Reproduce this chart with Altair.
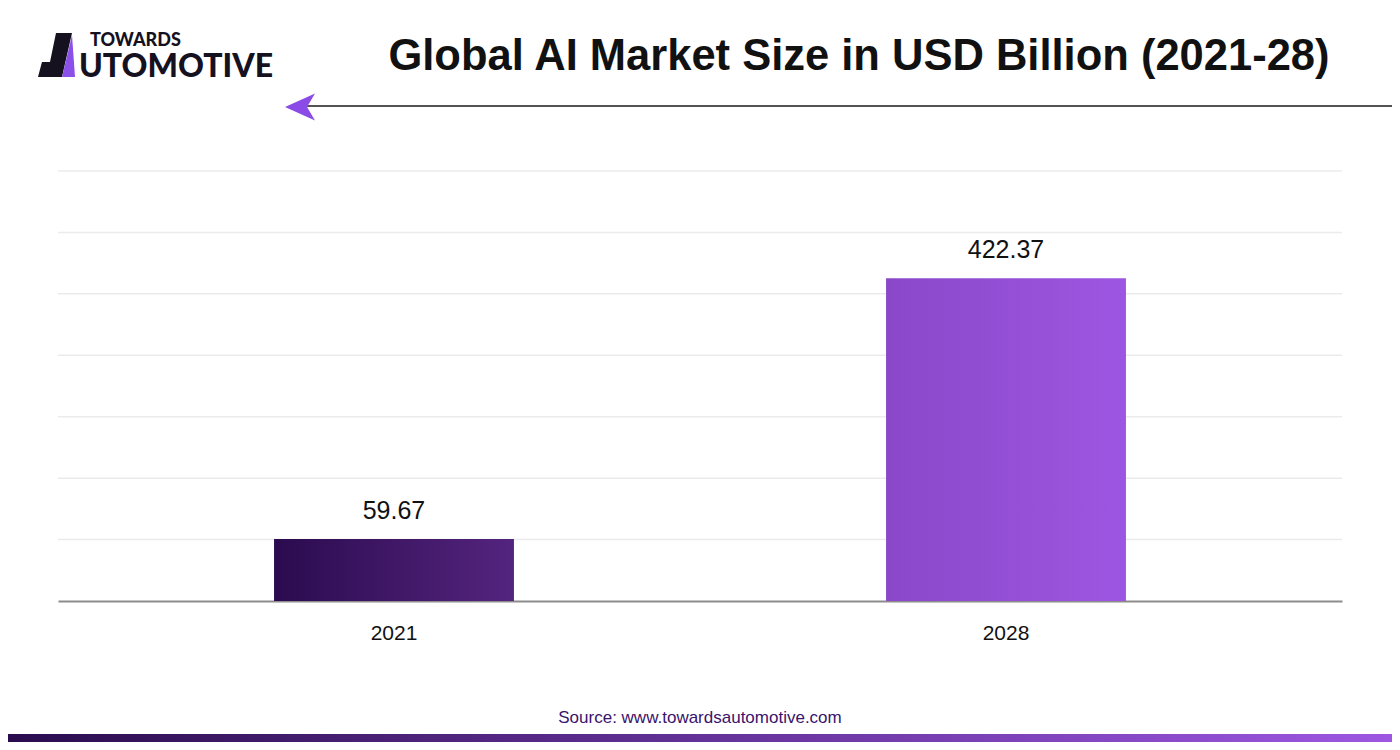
import altair as alt
import pandas as pd

# ---- data ----
years = ["2021", "2028"]
values = [59.67, 422.37]
value_labels = ["59.67", "422.37"]
grid_levels = [1, 2, 3, 4, 5, 6, 7]

title_text = "Global AI Market Size in USD Billion (2021-28)"
source_text = "Source: www.towardsautomotive.com"

df = pd.DataFrame({"year": years, "value": values, "label": value_labels})
grid_df = pd.DataFrame({"g": grid_levels})
one = alt.Data(values=[{"k": 1}])

x_enc = alt.X(
    "year:N",
    sort=years,
    scale=alt.Scale(paddingInner=0.608, paddingOuter=0.353),
    axis=alt.Axis(
        title=None, labelAngle=0, ticks=False, labelFontSize=21,
        labelFont="Liberation Sans", labelColor="#111111", labelPadding=21,
        domainColor="#8c8c8c", domainWidth=2,
    ),
)
y_enc = alt.Y("value:Q", scale=alt.Scale(type="pow", exponent=0.842, domain=[0, 594]), axis=None)


def grad(c1, c2):
    return alt.LinearGradient(
        gradient="linear",
        stops=[alt.GradientStop(color=c1, offset=0), alt.GradientStop(color=c2, offset=1)],
        x1=0, x2=1, y1=0, y2=0,
    )


grid = alt.Chart(grid_df).mark_rule(color="#ebebeb", strokeWidth=1.5).encode(
    y=alt.Y("g:Q", scale=alt.Scale(domain=[0, 7]), axis=None)
)

base = alt.Chart(df)
bar1 = base.mark_bar(color=grad("#2b0b4f", "#54247e")).encode(x=x_enc, y=y_enc).transform_filter(
    alt.datum.year == years[0]
)
bar2 = base.mark_bar(color=grad("#8a48c9", "#9d56e1")).encode(x=x_enc, y=y_enc).transform_filter(
    alt.datum.year == years[1]
)
labels = base.mark_text(
    dy=-20, baseline="alphabetic", fontSize=25, font="Liberation Sans", color="#111111"
).encode(x=x_enc, y=y_enc, text="label:N")

# ---- decorations (positions relative to plot origin) ----
title = alt.Chart(one).mark_text(
    text=title_text, fontSize=43.5, fontWeight="bold", font="Liberation Sans",
    color="#111111", align="center", baseline="alphabetic",
).encode(x=alt.value(801), y=alt.value(-101))

arrow_line = alt.Chart(one).mark_rule(color="#1a1a1a", strokeWidth=1.5).encode(
    x=alt.value(249), x2=alt.value(1334), y=alt.value(-65)
)
arrow_head = alt.Chart(one).mark_point(
    shape="M -1 0 L 1 -0.9 L 0.47 0 L 1 0.9 Z", filled=True, size=900,
    color="#8a4be6", opacity=1, strokeWidth=0,
).encode(x=alt.value(242), y=alt.value(-64))

logo_dark = alt.Chart(one).mark_point(
    shape="M -0.286 -0.786 L 0.286 -0.786 L -0.071 0.786 L -0.929 0.786 L -0.786 0.25 L -0.5 0.25 Z",
    filled=True, size=3136, color="#15111f", opacity=1, strokeWidth=0,
).encode(x=alt.value(6), y=alt.value(-116))
logo_purple = alt.Chart(one).mark_point(
    shape="M 0.286 -0.714 L -0.071 0.786 L 0.393 0.786 Z",
    filled=True, size=3136, color="#8b50e8", opacity=1, strokeWidth=0,
).encode(x=alt.value(6), y=alt.value(-116))
logo_top = alt.Chart(one).mark_text(
    text="TOWARDS", fontSize=18, fontWeight=900, font="Lato", color="#15111f",
    align="left", baseline="alphabetic",
).encode(x=alt.value(32), y=alt.value(-125))
logo_bottom = alt.Chart(one).mark_text(
    text="UTOMOTIVE", fontSize=32, fontWeight=900, font="Lato", color="#15111f",
    align="left", baseline="alphabetic",
).encode(x=alt.value(21), y=alt.value(-94))

source = alt.Chart(one).mark_text(
    text=source_text, fontSize=17, font="Liberation Sans", fontWeight=500,
    color="#3a136b", align="center", baseline="alphabetic",
).encode(x=alt.value(642), y=alt.value(552))

band = alt.Chart(one).mark_rect(color=grad("#2a0c4e", "#9d57e2")).encode(
    x=alt.value(-50), x2=alt.value(1334), y=alt.value(563), y2=alt.value(571)
)

chart = (
    alt.layer(
        grid, bar1, bar2, labels, title, arrow_line, arrow_head,
        logo_dark, logo_purple, logo_top, logo_bottom, source, band,
    )
    .resolve_scale(y="independent")
    .properties(
        width=1284, height=430,
        padding={"left": 50, "top": 163, "right": 50, "bottom": 141},
        autosize=alt.AutoSizeParams(type="none"),
        background="white",
    )
    .configure_view(strokeWidth=0)
)

chart.save("out.html", embed_options={"renderer": "svg", "actions": False})
